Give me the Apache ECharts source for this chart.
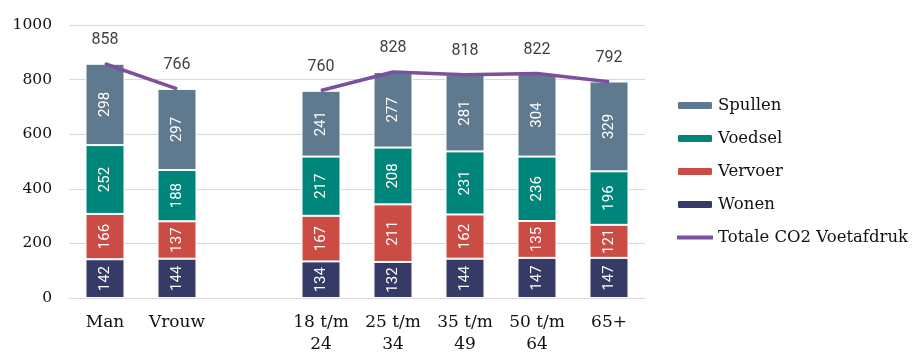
<!DOCTYPE html>
<html>
<head>
<meta charset="utf-8">
<script src="https://cdn.jsdelivr.net/npm/echarts@6/dist/echarts.min.js"></script>
<style>
	html, body { margin: 0; padding: 0; background: #fff; }
	#chart { width: 912px; height: 352px; }
</style>
</head>
<body>
<div id="chart"></div>
<script>
// categorieën (lege plek tussen geslacht en leeftijd)
const categories = ['Man', 'Vrouw', '', '18 t/m\n24', '25 t/m\n34', '35 t/m\n49', '50 t/m\n64', '65+'];
const wonen   = [142, 144, null, 134, 132, 144, 147, 147];
const vervoer = [166, 137, null, 167, 211, 162, 135, 121];
const voedsel = [252, 188, null, 217, 208, 231, 236, 196];
const spullen = [298, 297, null, 241, 277, 281, 304, 329];
const totaal  = [858, 766, null, 760, 828, 818, 822, 792];
const yTicks = [0, 200, 400, 600, 800, 1000];

const serif = 'DejaVu Serif';
const sans = 'Roboto';

function barSeries(name, data, color) {
	return {
		name: name,
		type: 'bar',
		stack: 'co2',
		barWidth: 39,
		data: data,
		itemStyle: { color: color, borderColor: '#fff', borderWidth: 1 },
		label: {
			show: true,
			position: 'inside',
			rotate: 90,
			color: '#fff',
			fontFamily: sans,
			fontSize: 15
		}
	};
}

const chart = echarts.init(document.getElementById('chart'));
chart.setOption({
	animation: false,
	grid: { left: 69, right: 267, top: 25, bottom: 54, outerBoundsMode: 'none', containLabel: false },
	legend: {
		orient: 'vertical',
		left: 670,
		top: 92,
		itemWidth: 36,
		itemHeight: 9,
		itemGap: 16,
		textStyle: { fontFamily: serif, fontSize: 16.5, color: '#111' },
		data: ['Spullen', 'Voedsel', 'Vervoer', 'Wonen',
			{ name: 'Totale CO2 Voetafdruk', itemStyle: { opacity: 0 }, lineStyle: { width: 4 } }]
	},
	xAxis: {
		type: 'category',
		data: categories,
		axisLine: { lineStyle: { color: '#d9d9d9', width: 1 } },
		axisTick: { show: false },
		axisLabel: {
			fontFamily: serif, fontSize: 17, color: '#111',
			margin: 14, lineHeight: 22, interval: 0
		}
	},
	yAxis: {
		type: 'value',
		min: yTicks[0],
		max: yTicks[yTicks.length - 1],
		interval: 200,
		axisLine: { show: false },
		axisTick: { show: false },
		splitLine: { lineStyle: { color: '#d9d9d9', width: 1 } },
		axisLabel: {
			fontFamily: serif, fontSize: 15.5, color: '#111', margin: 17,
			formatter: v => String(v)
		}
	},
	series: [
		barSeries('Wonen', wonen, '#363a66'),
		barSeries('Vervoer', vervoer, '#cb4c44'),
		barSeries('Voedsel', voedsel, '#00857a'),
		barSeries('Spullen', spullen, '#5f7a8e'),
		{
			name: 'Totale CO2 Voetafdruk',
			type: 'line',
			data: totaal,
			connectNulls: false,
			symbol: 'circle',
			symbolSize: 1,
			showSymbol: true,
			lineStyle: { color: '#7b519d', width: 3.5 },
			itemStyle: { color: '#7b519d' },
			label: {
				show: true,
				position: 'top',
				distance: 15,
				color: '#404040',
				fontFamily: sans,
				fontSize: 16
			},
			z: 5
		}
	]
});
</script>
</body>
</html>
